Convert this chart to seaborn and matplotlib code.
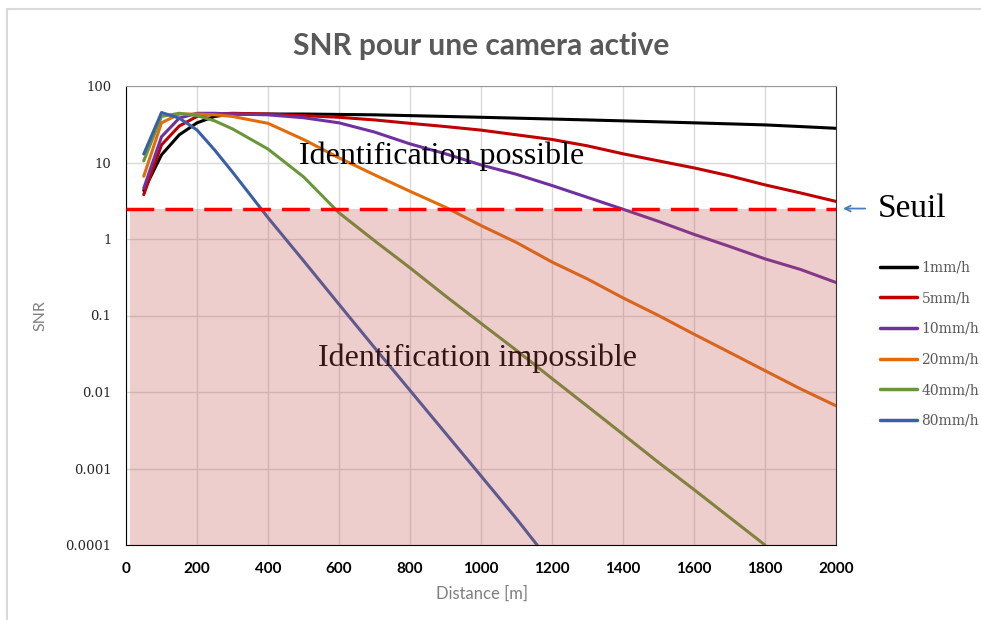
import numpy as np
import pandas as pd
import matplotlib
matplotlib.use("Agg")
import matplotlib.pyplot as plt
import matplotlib.patches as patches
import seaborn as sns

# ── Données ────────────────────────────────────────────────────
dist_full = [50, 100, 150, 200, 250, 300, 400, 500, 600, 700, 800, 900, 1000,
             1100, 1200, 1300, 1400, 1500, 1600, 1700, 1800, 1900, 2000]
dist_40 = dist_full[:21]
dist_80 = [50, 100, 150, 200, 250, 300, 400, 500, 600, 700, 800, 900, 1000, 1100, 1158]

snr_1 = [4.3, 12.6, 23, 33, 40, 43, 43, 43, 42.5, 42, 41, 40, 39, 38, 37, 36, 35,
         34, 33, 32, 31, 29.5, 28]
snr_5 = [3.8, 17, 30, 40, 43, 44, 43, 41, 39, 36, 32.5, 29.5, 26.5, 23, 20, 16.5,
         13, 10.5, 8.5, 6.7, 5.1, 4.0, 3.1]
snr_10 = [4.6, 21.7, 38, 44, 44, 43, 42, 38.5, 33, 25, 17.5, 13, 9.3, 7, 5, 3.5,
          2.45, 1.7, 1.15, 0.8, 0.55, 0.4, 0.27]
snr_20 = [6.6, 33, 43, 43, 42, 40, 32.5, 20, 11.5, 6.9, 4.2, 2.6, 1.5, 0.9, 0.5,
          0.3, 0.17, 0.1, 0.057, 0.033, 0.019, 0.011, 0.0066]
snr_40 = [10.5, 40, 44, 41, 35, 27.5, 15, 6.5, 2.2, 0.95, 0.42, 0.18, 0.079, 0.035,
          0.015, 0.0065, 0.0028, 0.0012, 0.00053, 0.00023, 0.0001]
snr_80 = [12.9, 45, 38, 26.6, 14.5, 7.5, 1.9, 0.52, 0.14, 0.038, 0.0105, 0.0029,
          0.0008, 0.00022, 0.0001]

labels = ["1mm/h", "5mm/h", "10mm/h", "20mm/h", "40mm/h", "80mm/h"]
colors = ["#000000", "#C00000", "#7030A0", "#E36C0A", "#6A963A", "#3A5FA8"]
seuil = 2.5

x_ticks = [0, 200, 400, 600, 800, 1000, 1200, 1400, 1600, 1800, 2000]
y_ticks = [0.0001, 0.001, 0.01, 0.1, 1, 10, 100]
y_tick_labels = ["0.0001", "0.001", "0.01", "0.1", "1", "10", "100"]

series = [(dist_full, snr_1), (dist_full, snr_5), (dist_full, snr_10),
          (dist_full, snr_20), (dist_40, snr_40), (dist_80, snr_80)]
df = pd.concat(
    [pd.DataFrame({"Distance": d, "SNR": s, "Pluie": lab})
     for (d, s), lab in zip(series, labels)],
    ignore_index=True,
)

# ── Figure ─────────────────────────────────────────────────────
sns.set_style("white")
plt.rcParams["font.family"] = ["Lato", "DejaVu Sans"]

fig = plt.figure(figsize=(9.81, 6.2), dpi=100)
ax = fig.add_axes([126 / 981, 75 / 620, 710 / 981, 459 / 620])

# cadre gris de la figure
fig.patches.append(patches.Rectangle(
    (7 / 981, -0.1), 1.2, (620 - 9) / 620 + 0.1, transform=fig.transFigure,
    fill=False, edgecolor="#D9D9D9", linewidth=1.5))

sns.lineplot(data=df, x="Distance", y="SNR", hue="Pluie", palette=colors,
             linewidth=2.2, ax=ax, zorder=2, estimator=None, sort=True)

ax.set_yscale("log")
ax.set_xlim(0, 2000)
ax.set_ylim(1e-4, 100)
ax.set_xticks(x_ticks)
ax.set_yticks(y_ticks)
ax.set_yticklabels(y_tick_labels)
ax.minorticks_off()
ax.grid(True, color="#D9D9D9", linewidth=1, zorder=0)
ax.set_axisbelow(True)

for lab in ax.get_xticklabels():
    lab.set_fontweight("bold")
    lab.set_fontsize(11)
for lab in ax.get_yticklabels():
    lab.set_fontfamily("DejaVu Serif")
    lab.set_fontsize(9.5)
    lab.set_color("#262626")
ax.tick_params(axis="x", direction="in", length=4, pad=12, colors="black")
ax.tick_params(axis="y", direction="inout", length=7, pad=7)

ax.spines["left"].set_color("black")
ax.spines["bottom"].set_color("black")
ax.spines["top"].set_color("#999999")
ax.spines["right"].set_color("#333333")

ax.set_xlabel("Distance [m]", fontsize=12, color="#7F7F7F")
ax.set_ylabel("SNR", fontsize=11.5, color="#7F7F7F")
ax.xaxis.set_label_coords(0.501, -0.089)
ax.yaxis.set_label_coords(-0.110, 0.5)

ax.set_title("SNR pour une camera active", fontsize=21.5, fontweight="bold",
             color="#595959", y=1.0, pad=22)

# zone où l'identification est impossible
ax.fill_between([11, 2000], 1e-4, seuil, color="#C0504D", alpha=0.28,
                linewidth=0, zorder=3)
ax.axhline(seuil, color="#FF0000", linewidth=2.5, dashes=(8, 3.2), zorder=4)

ax.text(890, 12.2, "Identification possible", family="Liberation Serif",
        fontsize=23, ha="center", va="center", color="black", zorder=5)
ax.text(989, 0.0278, "Identification impossible", family="Liberation Serif",
        fontsize=23, ha="center", va="center", color="black", zorder=2.5)

trans = ax.get_yaxis_transform()
ax.annotate("", xy=(1.006, seuil), xycoords=trans,
            xytext=(1.045, seuil), textcoords=trans,
            arrowprops=dict(arrowstyle="->", color="#4A7EBB", lw=1.3),
            annotation_clip=False)
ax.text(1.059, seuil, "Seuil", transform=trans, family="Liberation Serif",
        fontsize=24, ha="left", va="center", color="black")

sns.move_legend(ax, "upper left", bbox_to_anchor=(1.054, 0.632), frameon=False,
                title=None, fontsize=10, handlelength=2.7, labelspacing=1.2,
                handletextpad=0.3, borderaxespad=0)
leg = ax.get_legend()
for t in leg.get_texts():
    t.set_color("#595959")
    t.set_fontfamily("DejaVu Serif")
for h in leg.legend_handles:
    h.set_linewidth(2.5)

fig.savefig("out.png", dpi=100)
